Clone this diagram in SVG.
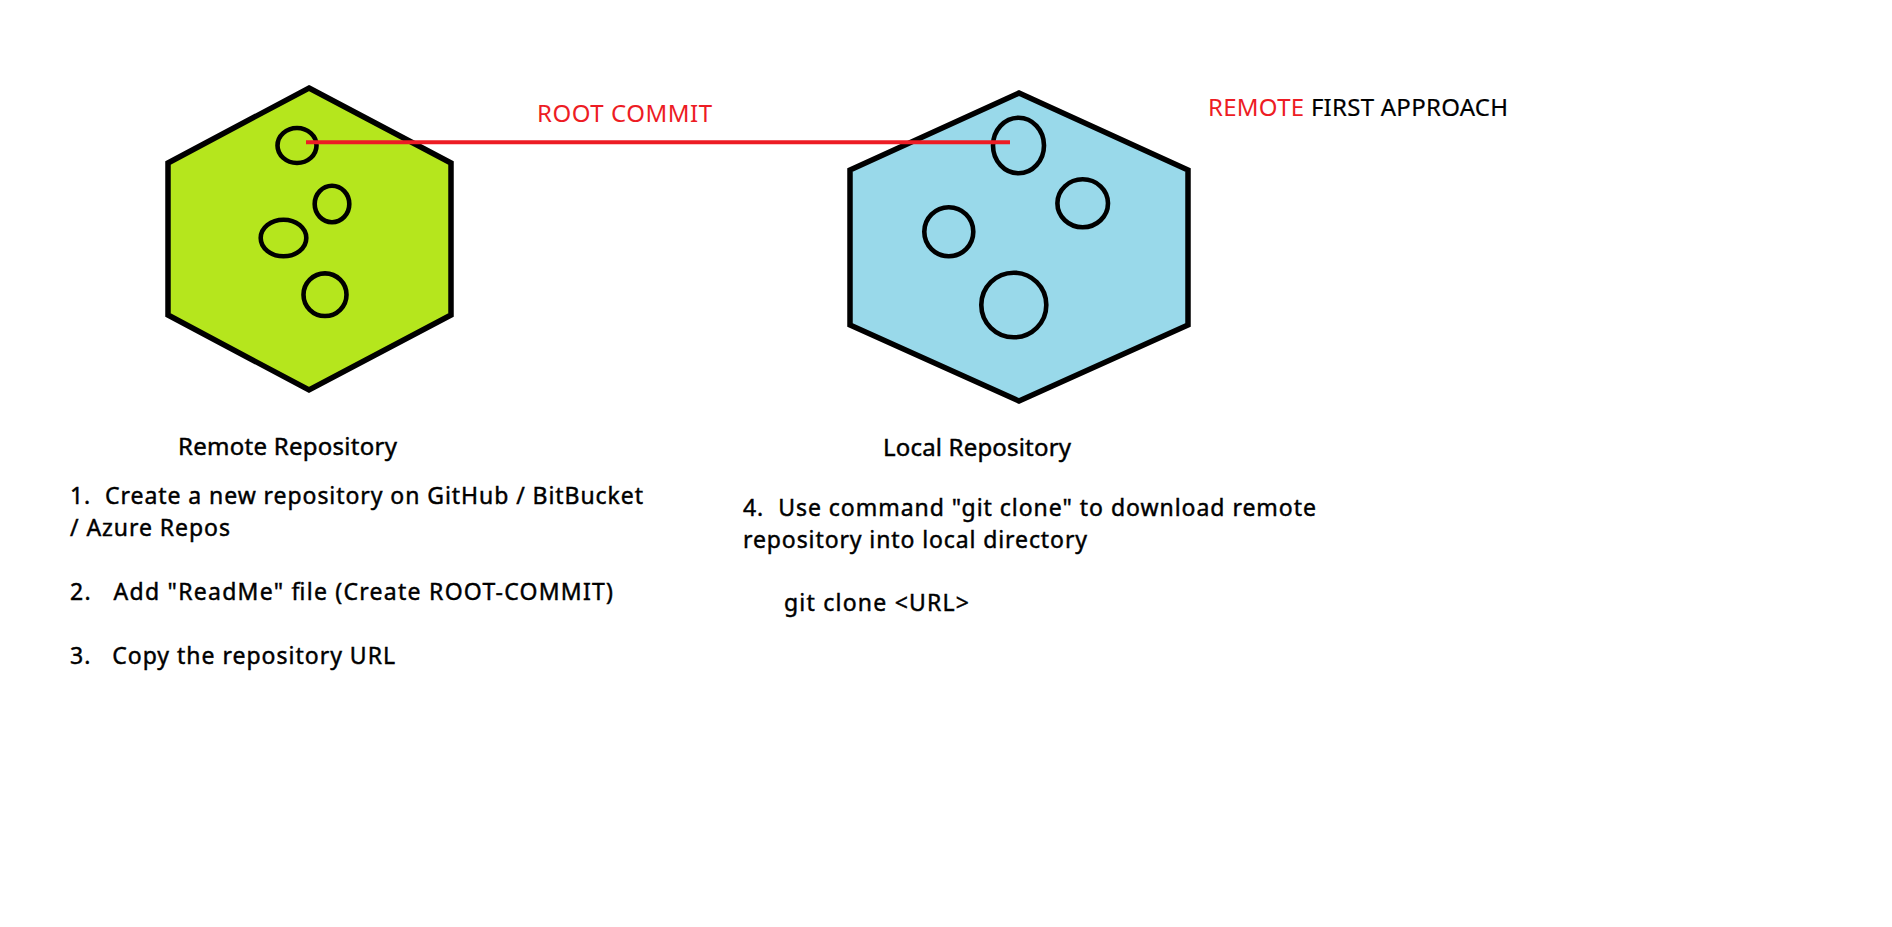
<svg xmlns="http://www.w3.org/2000/svg" width="1892" height="927" viewBox="0 0 1892 927">
<style>
.hex{stroke:#000;stroke-width:5.5;stroke-linejoin:miter}
.commit{fill:none;stroke:#000;stroke-width:4.6}
.t{font-family:"Noto Sans","Open Sans","Liberation Sans",sans-serif;fill:#000;font-size:23px;stroke:#000;stroke-width:0.45}
.lbl{font-size:24px}
.red{fill:#ED1C24;stroke:none}
.title{font-size:24px;stroke-width:0.2}
</style>
<rect width="1892" height="927" fill="#fff"/>
<g id="remote-repo">
<polygon class="hex" fill="#B5E61D" points="309,88 451,163 451,315 309,390 168,315 168,163"/>
<ellipse class="commit" cx="297" cy="145.5" rx="19.5" ry="17.5"/>
<ellipse class="commit" cx="332" cy="204" rx="17.3" ry="18.2"/>
<ellipse class="commit" cx="283.5" cy="238" rx="22.8" ry="18.3"/>
<ellipse class="commit" cx="325" cy="294.7" rx="21.5" ry="21.3"/>
</g>
<g id="local-repo">
<polygon class="hex" fill="#99D9EA" points="1019,93 1188,170 1188,325 1019,401 850,325 850,170"/>
<ellipse class="commit" cx="1018.5" cy="145.5" rx="25.5" ry="27.8"/>
<ellipse class="commit" cx="1082.7" cy="203.3" rx="25.3" ry="24"/>
<ellipse class="commit" cx="948.8" cy="231.8" rx="24.5" ry="24.5"/>
<ellipse class="commit" cx="1013.8" cy="305" rx="32.5" ry="32.3"/>
</g>
<g id="connectors">
<line x1="306" y1="142.3" x2="1010" y2="142.3" stroke="#ED1C24" stroke-width="4"/>
</g>
<g id="labels">
<text class="t title red" x="537" y="122" textLength="175">ROOT COMMIT</text>
<text class="t title" x="1208" y="116" textLength="300"><tspan class="red">REMOTE</tspan> FIRST APPROACH</text>
<text class="t lbl" x="178" y="455" textLength="219">Remote Repository</text>
<text class="t lbl" x="883" y="456" textLength="188">Local Repository</text>
<text class="t" x="70" y="504" textLength="573" xml:space="preserve">1.  Create a new repository on GitHub / BitBucket</text>
<text class="t" x="70" y="536" textLength="160">/ Azure Repos</text>
<text class="t" x="70" y="600" textLength="543" xml:space="preserve">2.   Add "ReadMe" file (Create ROOT-COMMIT)</text>
<text class="t" x="70" y="664" textLength="325" xml:space="preserve">3.   Copy the repository URL</text>
<text class="t" x="743" y="516" textLength="573" xml:space="preserve">4.  Use command "git clone" to download remote</text>
<text class="t" x="743" y="548" textLength="344">repository into local directory</text>
<text class="t" x="784" y="611" textLength="185">git clone &lt;URL&gt;</text>
</g>
</svg>
